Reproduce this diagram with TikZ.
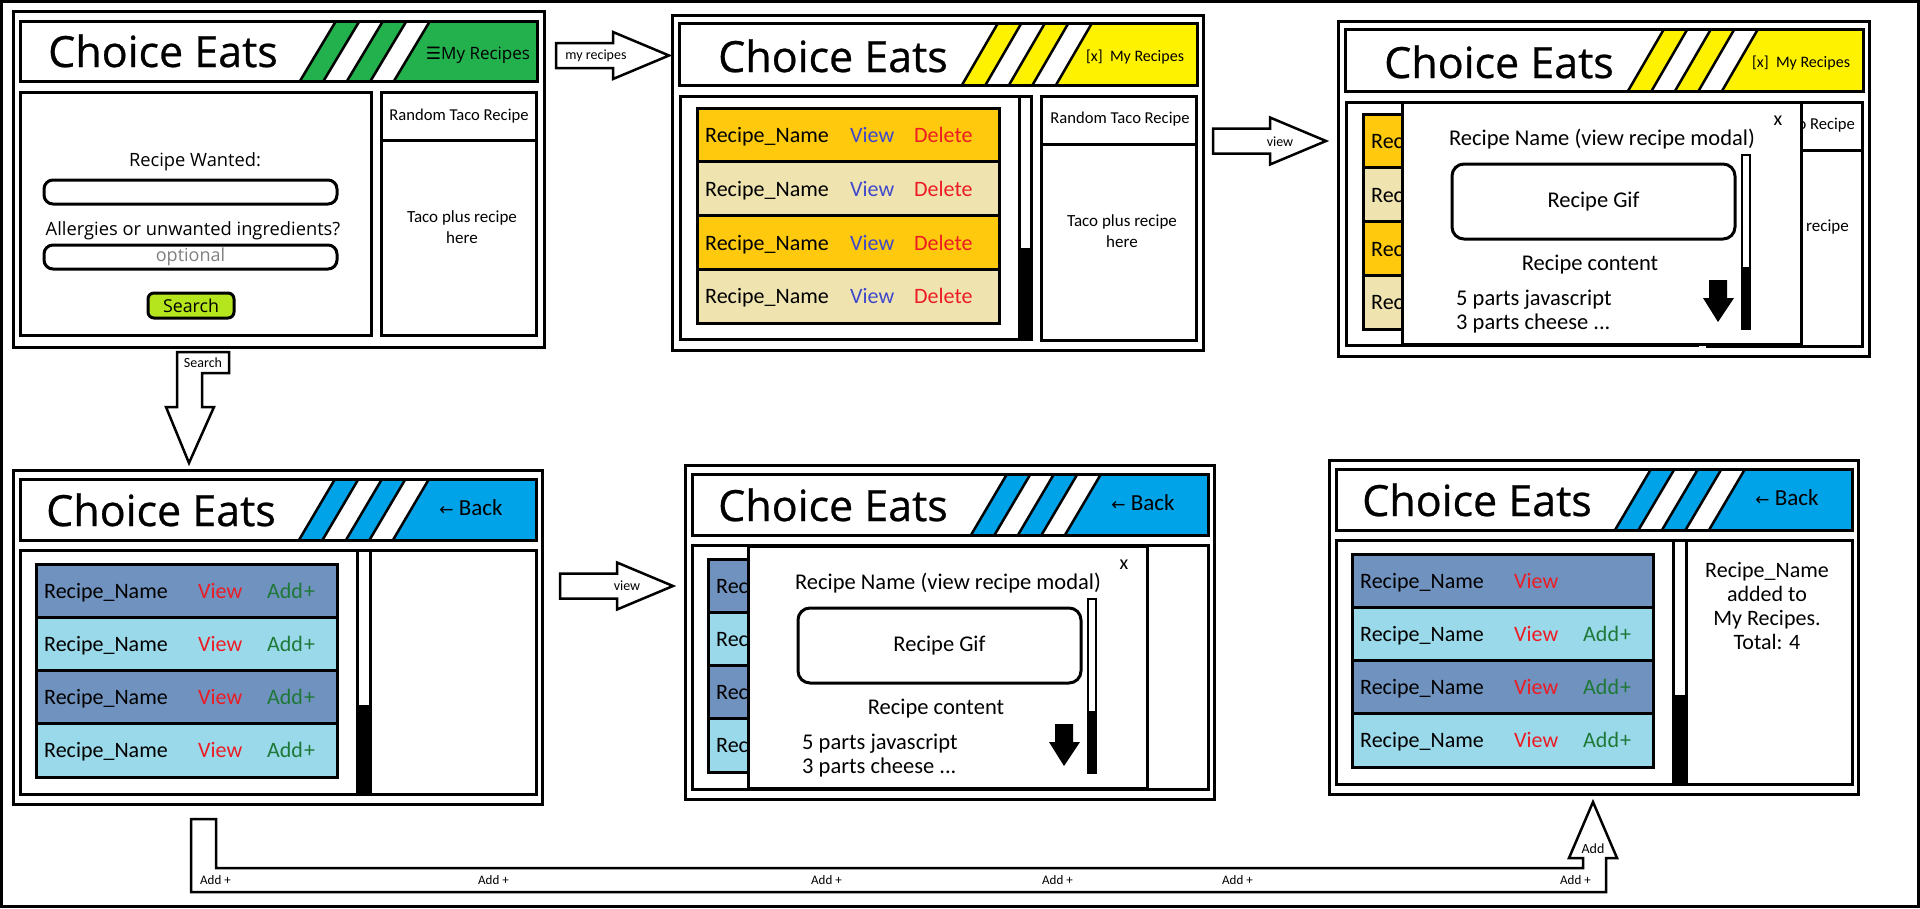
\documentclass[tikz,border=0pt]{standalone}
\usepackage{fontspec}
\setmainfont{Carlito}
\newfontfamily\uifont{Open Sans}
\newfontfamily\brandfont{Open Sans}[FakeBold=0.6]
\newfontfamily\symfont{DejaVu Sans}
\usetikzlibrary{positioning}

\definecolor{eatsgreen}{RGB}{34,177,76}
\definecolor{eatsyellow}{RGB}{255,242,0}
\definecolor{eatsblue}{RGB}{0,162,232}
\definecolor{btnlime}{RGB}{181,230,29}
\definecolor{rowgold}{RGB}{255,201,14}
\definecolor{rowcream}{RGB}{239,228,176}
\definecolor{rowslate}{RGB}{112,146,190}
\definecolor{rowsky}{RGB}{153,217,234}
\definecolor{viewblue}{RGB}{63,72,204}
\definecolor{delred}{RGB}{237,28,36}
\definecolor{addgreen}{RGB}{30,120,55}

\newcommand\fsz[2]{\fontsize{#1}{#2}\selectfont}
\newif\ifcovered

\tikzset{
  panel/.style={draw, line width=3pt},
  rowbox/.style={draw, line width=3pt},
  brand/.style={font=\brandfont\fsz{43}{43}, inner sep=0pt, anchor=base west},
  ui/.style={font=\uifont\fsz{18.3}{22}, inner sep=0pt, text depth=0pt},
  note/.style={font=\fsz{17}{21}, inner sep=0pt, text depth=0pt},
  cell/.style={font=\fsz{22}{24}, inner sep=0pt, anchor=base west},
  mtext/.style={font=\fsz{22.5}{24}, inner sep=0pt, text depth=0pt},
  tiny/.style={font=\fsz{14}{14}, inner sep=0pt, text depth=0pt},
  arrowline/.style={draw, line width=2.5pt, fill=white},
  field/.style={draw, line width=3pt, rounded corners=9pt, minimum width=293pt,
    minimum height=24pt, inner sep=0pt},
}

% header bar: corners, first stripe, colour
\newcommand\eatsheader[6]{%
  \fill[#6] (#5,#4) -- ({#5+36},#2) -- (#3,#2) -- (#3,#4) -- cycle;
  \foreach \k in {1,3}
    \fill[white] ({#5+\k*23.5},#4) -- ({#5+\k*23.5+36},#2)
      -- ({#5+(\k+1)*23.5+36},#2) -- ({#5+(\k+1)*23.5},#4) -- cycle;
  \foreach \k in {0,...,4}
    \draw[line width=2.5pt] ({#5+\k*23.5},#4) -- ({#5+\k*23.5+36},#2);
  \draw[panel] (#1,#2) rectangle (#3,#4);
}

% block arrow pointing right
\newcommand\fatarrow[3]{%
  \draw[arrowline] (#2,{#3-12.5}) -- ({#2+57},{#3-12.5}) -- ({#2+57},{#3-23.5})
    -- ({#2+113},#3) -- ({#2+57},{#3+23.5}) -- ({#2+57},{#3+12.5})
    -- (#2,{#3+12.5}) -- cycle;
  \coordinate (#1) at ({#2+113},#3);
}

% my recipes page
\newcommand\mylist[1]{%
  \draw[panel] (672,15) rectangle (1203,350);
  \eatsheader{679}{23}{1197}{85}{962}{eatsyellow}
  \node[brand] (#1title) at (718,72) {Choice Eats};
  \node[note, font=\fsz{16}{16}] (#1my) at (1135,56) {[x]\ \ My Recipes};
  \draw[panel] (680,96) rectangle (1031,339);
  \foreach \i/\col in {0/rowgold,1/rowcream,2/rowgold,3/rowcream} {
    \draw[rowbox, fill=\col] (697,{108+53.75*\i}) rectangle (999,{161.75+53.75*\i});
    \ifcovered
      \node[cell] (#1name\i) at (705,{142.5+53.75*\i}) {Rec};
    \else
      \node[cell] (#1name\i) at (705,{142.5+53.75*\i}) {Recipe\_Name};
      \node[cell, text=viewblue] (#1view\i) at (850,{142.5+53.75*\i}) {View};
      \node[cell, text=delred] (#1del\i) at (914,{142.5+53.75*\i}) {Delete};
    \fi
  }
  % scroll bar
  \draw[panel] (1019,96) -- (1019,339);
  \fill (1019,248) rectangle (1031,339);
  \draw[panel] (1041,96) rectangle (1196,340);
  \draw[panel] (1041,144) -- (1196,144);
  \ifcovered
    \node[note, font=\fsz{16.6}{16.6}, anchor=east] (#1rand) at (1189,118) {o Recipe};
    \node[note, anchor=east] (#1taco) at (1183,220) {recipe};
  \else
    \node[note, font=\fsz{16.6}{16.6}] (#1rand) at (1120,118) {Random Taco Recipe};
    \node[note, align=center] (#1taco) at (1122,231) {Taco plus recipe\\here};
  \fi
}

% search results page
\newcommand\results[2]{%
  \draw[panel] (13,470) rectangle (542,804);
  \eatsheader{20}{479}{536}{540}{299}{eatsblue}
  \node[brand] (#1title) at (46,526) {Choice Eats};
  \node[note, font=\fsz{23}{23}] (#1back) at (471,508) {{\symfont\fsz{17}{17}←} Back};
  \draw[panel] (20,550) rectangle (536,794);
  \foreach \i/\col in {0/rowslate,1/rowsky,2/rowslate,3/rowsky} {
    \draw[rowbox, fill=\col] (36,{564+53.25*\i}) rectangle (337.5,{617.25+53.25*\i});
    \ifcovered
      \node[cell] (#1name\i) at (44,{598+53.25*\i}) {Rec};
    \else
      \node[cell] (#1name\i) at (44,{598+53.25*\i}) {Recipe\_Name};
      \node[cell, text=delred] (#1view\i) at (198,{598+53.25*\i}) {View};
    \fi
  }
  \ifcovered\else
    \foreach \i in {#2}
      \node[cell, text=addgreen] (#1add\i) at (267,{598+53.25*\i}) {Add\kern1pt+};
  \fi
  % scroll bar
  \draw[panel] (357,550) rectangle (370,794);
  \fill (357,705) rectangle (370,794);
}

% view recipe modal
\newcommand\recipemodal[3]{%
  \begin{scope}[shift={(#2,#3)}]
  \filldraw[fill=white, line width=3pt] (0,0) rectangle (399,242);
  \node[mtext, font=\fsz{20}{20}] (#1x) at (376,19) {x};
  \node[mtext] (#1head) at (200,35) {Recipe Name (view recipe modal)};
  \node[draw, line width=3pt, rounded corners=12pt, minimum width=283pt,
    minimum height=75pt, font=\fsz{22.5}{24}] (#1gif) at (191.5,99.5) {Recipe Gif};
  \node[mtext] (#1content) at (188,161) {Recipe content};
  \node[mtext, anchor=base west, text depth=] (#1partsa) at (54,203.5) {5 parts javascript};
  \node[mtext, anchor=base west, text depth=] (#1partsb) at (54,227.5) {3 parts cheese ...};
  \fill (307,178) -- (325,178) -- (325,196) -- (332,196) -- (316,220)
    -- (301,196) -- (307,196) -- cycle;
  \draw[line width=1.5pt] (340,53) rectangle (348,227);
  \fill (340,165) rectangle (348,227);
  \end{scope}
}

\begin{document}
\begin{tikzpicture}[x=1pt, y=-1pt]
\useasboundingbox (0,0) rectangle (1920,908);
\draw[line width=3pt] (1.5,1.5) rectangle (1918.5,906.5);

% search page
\draw[panel] (13,11) rectangle (544,347);
\eatsheader{20}{21}{537}{81}{300}{eatsgreen}
\node[brand] (p1title) at (48,67) {Choice Eats};
\node[ui, font=\uifont\fsz{17}{17}] (p1my) at (478,53) {{\symfont ☰}My Recipes};
\draw[panel] (20,92) rectangle (371,335);
\node[ui] (want) at (195,160) {Recipe Wanted:};
\node[field] (wantbox) at (190.5,192) {};
\node[ui] (allergy) at (193,229) {Allergies or unwanted ingredients?};
\node[field, font=\uifont\fsz{18}{18}, text=black!50] (allergybox) at (190.5,257) {optional};
\node[draw, line width=3pt, rounded corners=6pt, fill=btnlime, minimum width=86pt,
  minimum height=25pt, inner sep=0pt, font=\uifont\fsz{17.8}{17.8}] (go) at (191,305.5) {Search};
\draw[panel] (381,92) rectangle (536,335);
\draw[panel] (381,140) -- (536,140);
\node[note, font=\fsz{16.6}{16.6}] (p1rand) at (459,115) {Random Taco Recipe};
\node[note, align=center] (p1taco) at (462,227.5) {Taco plus recipe\\here};

% my recipes page
\coveredfalse
\mylist{p2}
% my recipes page with modal
\begin{scope}[shift={(666,6)}]
\coveredtrue
\mylist{p3}
\end{scope}
\recipemodal{m3}{1402}{102}

% results page
\coveredfalse
\results{p4}{0,1,2,3}
% results page with modal
\begin{scope}[shift={(672,-5)}]
\coveredtrue
\results{p5}{0,1,2,3}
\end{scope}
\recipemodal{m5}{748}{546}
% results page after add
\coveredfalse
\begin{scope}[shift={(1316,-10)}]
\results{p6}{1,2,3}
\end{scope}
\node[cell, anchor=center, align=center, text depth=0pt] (p6msg) at (1767,606)
  {Recipe\_Name\\added to\\My Recipes.\\Total: 4};

% arrows
\fatarrow{toMy}{556}{55.5}
\node[tiny] (lblMy) at (596,55) {my recipes};
\fatarrow{toView}{1213}{141}
\node[tiny] (lblView) at (1280,142) {view};
\fatarrow{toModal}{560}{586}
\node[tiny] (lblModal) at (627,586) {view};
\draw[arrowline] (177,352) -- (229,352) -- (229,373) -- (202,373) -- (202,407)
  -- (214,407) -- (189,463) -- (166,407) -- (177,407) -- cycle;
\node[tiny] (lblSearch) at (203,363) {Search};
\draw[arrowline] (191,819) -- (216,819) -- (216,868) -- (1583,868) -- (1583,858)
  -- (1569,858) -- (1593,802) -- (1617,858) -- (1606,858) -- (1606,892)
  -- (191,892) -- cycle;
\foreach \x [count=\n] in {200,478,811,1042,1222,1560}
  \node[tiny, font=\fsz{13}{13}, anchor=west] (add\n) at (\x,880) {Add +};
\node[tiny] (lblAdd) at (1593,849) {Add};
\end{tikzpicture}
\end{document}
